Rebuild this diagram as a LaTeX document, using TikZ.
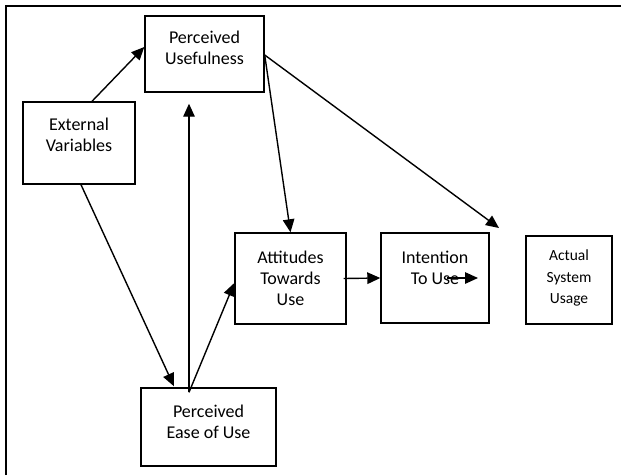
\documentclass[tikz,border=0pt]{standalone}
\usepackage{fontspec}
\setmainfont{Carlito}
\usetikzlibrary{positioning,arrows.meta}
\tikzset {
konstrukt/.style={shape=rectangle,draw,align=center,inner sep=0pt,font=\fontsize{18}{21}\selectfont},
klein/.style={font=\fontsize{15.5}{21.5}\selectfont}
}

\begin{document}
\begin{tikzpicture}
[x=1pt,y=-1pt,>={Triangle[length=13pt,width=11.5pt]},line width=1.4pt]
\useasboundingbox (0,0) rectangle (621,475);
\draw (6,475) -- (6,6) -- (621,6);
\node[konstrukt,minimum width=119pt,minimum height=76pt] (perceived usefulness) at (204.5,54) {Perceived\\Usefulness\\[-9pt]};
\node[konstrukt,minimum width=112pt,minimum height=82pt] (external variables) at (79,143) {External\\Variables\\[-5pt]};
\node[konstrukt,minimum width=111pt,minimum height=91pt] (attitudes towards use) at (290.5,278.5) {Attitudes\\Towards\\Use};
\node[konstrukt,minimum width=108pt,minimum height=90pt] (intention to use) at (435,278) {Intention\\To Use\\[-1pt]};
\node[konstrukt,klein,minimum width=86pt,minimum height=88pt] (actual system usage) at (569,280) {Actual\\System\\Usage\\[-15pt]};
\node[konstrukt,minimum width=135pt,minimum height=78pt] (perceived ease of use) at (208.5,427) {Perceived\\Ease of Use\\[-11pt]};

\coordinate (usage pfeil) at (499,228);
\coordinate (intention pfeil start) at ([xshift=12pt]intention to use.center);
\coordinate (intention pfeil ende) at ([xshift=43pt]intention to use.center);

\draw[->] ([xshift=13pt]external variables.north) to ([yshift=7pt]perceived usefulness.west);
\draw[->] ([xshift=2pt]external variables.south) to ([xshift=-34.5pt,yshift=1pt]perceived ease of use.north);
\draw[->] ([xshift=-19.5pt,yshift=-5pt]perceived ease of use.north) to ([xshift=-15.5pt,yshift=-11pt]perceived usefulness.south);
\draw[->] ([xshift=-19.5pt,yshift=-5pt]perceived ease of use.north) to ([yshift=-4.5pt]attitudes towards use.west);
\draw[->] ([yshift=-1pt]perceived usefulness.east) to (attitudes towards use.north);
\draw[->] ([yshift=-1pt]perceived usefulness.east) to (usage pfeil);
\draw[->] ([xshift=-3pt]attitudes towards use.east) to (intention to use.west);
\draw[->] (intention pfeil start) to (intention pfeil ende);
\end{tikzpicture}
\end{document}
